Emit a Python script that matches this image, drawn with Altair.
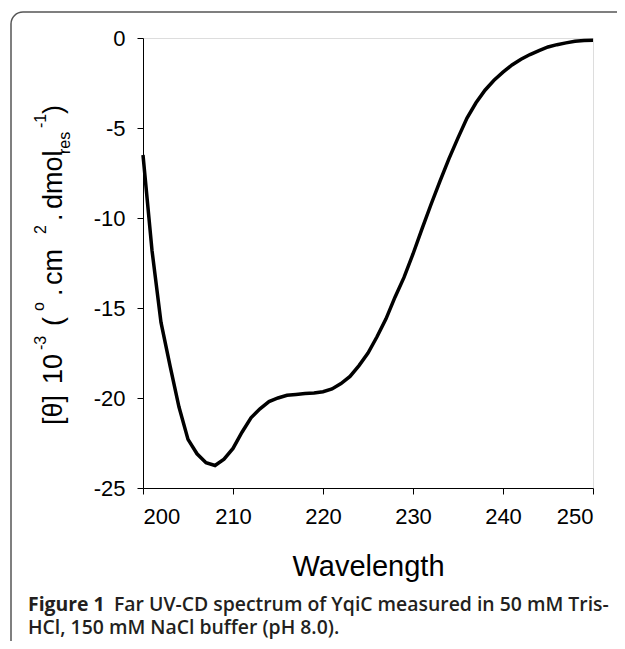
import altair as alt
import pandas as pd

# Data (wavelength in nm, [theta] x 10^-3)
wavelength = list(range(200, 251))
theta = [-6.5, -11.8, -15.8, -18.2, -20.5, -22.3, -23.1, -23.6, -23.75, -23.4,
         -22.8, -21.9, -21.1, -20.6, -20.2, -20.0, -19.85, -19.8, -19.75, -19.72,
         -19.65, -19.5, -19.2, -18.8, -18.2, -17.5, -16.6, -15.6, -14.4, -13.3,
         -12.0, -10.6, -9.25, -7.95, -6.7, -5.55, -4.45, -3.6, -2.9, -2.35,
         -1.9, -1.5, -1.18, -0.92, -0.7, -0.5, -0.37, -0.27, -0.18, -0.14,
         -0.13]
x_ticks = [200, 210, 220, 230, 240, 250]
y_ticks = [-25, -20, -15, -10, -5, 0]

df = pd.DataFrame({"wavelength": wavelength, "theta": theta})

W, H = 450, 450
OX, OY = 143, 38  # plot origin on page


def px(x):
    return alt.value(x - OX)


def py(y):
    return alt.value(y - OY)


one = alt.Data(values=[{}])

frame = alt.Chart(one).mark_rect(
    filled=False, stroke="#555555", strokeWidth=1.5, cornerRadius=12
).encode(x=px(11), y=py(12), x2=px(800), y2=py(800))

axis_common = dict(grid=False, labelFontSize=22, labelFont="Liberation Sans",
                   labelColor="black", tickColor="black", domainColor="black",
                   tickSize=6, labelExpr="'' + datum.value")

line = alt.Chart(df).mark_line(color="black", strokeWidth=3.5).encode(
    x=alt.X("wavelength:Q",
            scale=alt.Scale(domain=[200, 250], nice=False, zero=False),
            axis=alt.Axis(values=x_ticks, title="Wavelength", labelPadding=12,
                          titleFont="Liberation Sans", titleFontSize=29,
                          titleFontWeight="normal", titleColor="black",
                          titleY=87, titleBaseline="alphabetic", **axis_common)),
    y=alt.Y("theta:Q",
            scale=alt.Scale(domain=[-25, 0], nice=False, zero=False),
            axis=alt.Axis(values=y_ticks, title=None, labelPadding=12,
                          **axis_common)),
)


def ytext(txt, x, y, size):
    return alt.Chart(one).mark_text(
        text=txt, angle=270, align="left", baseline="alphabetic",
        font="Liberation Sans", fontSize=size, color="black"
    ).encode(x=px(x), y=py(y))


MAIN, SMALL = 27, 16
BX, SUPX, SUBX = 62, 46, 70
ytitle = [
    ytext("[θ]", BX, 425, MAIN),
    ytext("10", BX, 384, MAIN),
    ytext("-3", SUPX, 350, SMALL),
    ytext("(", BX, 326, MAIN),
    ytext("o", 44, 311, SMALL),
    ytext(".", BX, 296, MAIN),
    ytext("cm", BX, 285, MAIN),
    ytext("2", SUPX, 234, SMALL),
    ytext(".", BX, 221, MAIN),
    ytext("dmol", BX, 209, MAIN),
    ytext("res", SUBX, 154, SMALL),
    ytext("-1", SUPX, 128, SMALL),
    ytext(")", BX, 114, MAIN),
]


def cap(txt, x, y, weight, size):
    return alt.Chart(one).mark_text(
        text=txt, align="left", baseline="alphabetic", font="Open Sans",
        fontSize=size, fontWeight=weight, color="#231f20"
    ).encode(x=px(x), y=py(y))


CAP = 19.4
caption = [
    cap("Figure 1", 28, 611, "bold", CAP),
    cap("Far UV-CD spectrum of YqiC measured in 50 mM Tris-", 114, 611, 600, CAP),
    cap("HCl, 150 mM NaCl buffer (pH 8.0).", 28, 634, 600, CAP),
]

chart = alt.layer(frame, line, *ytitle, *caption).properties(
    width=W, height=H,
    autosize=alt.AutoSizeParams(type="none"),
    padding={"left": OX - 8, "top": OY - 8, "right": 609 - (OX - 8) - W,
             "bottom": 633 - (OY - 8) - H},
).configure_view(stroke="black", strokeWidth=1.2).configure(background="white")

chart.save("out.html", embed_options={"renderer": "svg", "actions": False})
